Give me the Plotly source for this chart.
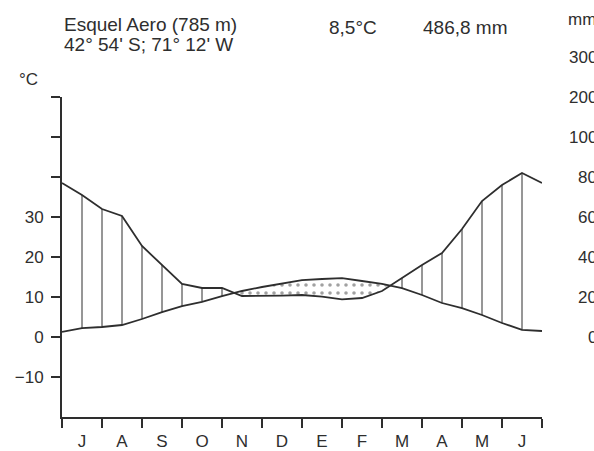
import numpy as np
import plotly.graph_objects as go

# ---------------- data ----------------
months = ["J", "A", "S", "O", "N", "D", "E", "F", "M", "A", "M", "J"]
# positions in months (0 = start of July), read every half month
pos = [i * 0.5 for i in range(25)]
temp_c = [1.3, 2.2, 2.5, 3.0, 4.5, 6.2, 7.7, 8.8, 10.2, 11.5, 12.5, 13.3, 14.2,
          14.5, 14.7, 14.0, 13.3, 12.2, 10.5, 8.5, 7.2, 5.5, 3.5, 1.8, 1.5]
precip_mm = [77, 71, 64, 60.5, 45.5, 36, 26.5, 24.5, 24.5, 20.5, 20.5, 20.7, 21,
             20.2, 18.8, 19.5, 23, 29.5, 36, 42, 54, 68, 76, 82, 77]

temp_ticks = [-10, 0, 10, 20, 30, 40, 50, 60]
temp_labels = ["\u221210", "0", "10", "20", "30", "", "", ""]
precip_ticks_mm = [0, 20, 40, 60, 80, 100, 200, 300]

title_line1 = "Esquel Aero (785 m)"
title_line2 = "42\u00b0 54' S; 71\u00b0 12' W"
mean_temp_txt = "8,5\u00b0C"
total_precip_txt = "486,8 mm"


def mm_to_y(mm):
    mm = np.asarray(mm, dtype=float)
    return np.where(mm <= 100, mm / 2.0, 50 + (mm - 100) / 10.0)


x = np.array(pos)
t = np.array(temp_c)
p = mm_to_y(precip_mm)

FONT = "Liberation Sans, Arial, sans-serif"
INK = "#2e2e2e"

Y0, Y1 = -20, 60

fig = go.Figure()

# ---- arid (dotted) regions: temperature above precipitation ----
d = t - p
i = 0
n = len(x)
while i < n:
    if d[i] > 0:
        j = i
        while j + 1 < n and d[j + 1] > 0:
            j += 1
        px_, py_ = [], []
        if i > 0:
            f = d[i - 1] / (d[i - 1] - d[i])
            px_.append(x[i - 1] + f * (x[i] - x[i - 1]))
            py_.append(t[i - 1] + f * (t[i] - t[i - 1]))
        px_ += list(x[i:j + 1]); py_ += list(t[i:j + 1])
        if j < n - 1:
            f = d[j] / (d[j] - d[j + 1])
            px_.append(x[j] + f * (x[j + 1] - x[j]))
            py_.append(t[j] + f * (t[j + 1] - t[j]))
        px_ += list(x[i:j + 1][::-1]); py_ += list(p[i:j + 1][::-1])
        fig.add_trace(go.Scatter(
            x=px_, y=py_, mode="lines", fill="toself",
            line=dict(width=0, color="rgba(0,0,0,0)"),
            fillcolor="white",
            fillpattern=dict(shape=".", fgcolor="#444444", bgcolor="white",
                             size=8, solidity=0.16),
            hoverinfo="skip", showlegend=False))
        i = j + 1
    else:
        i += 1

# ---- humid hatching: vertical lines where precipitation above temperature ----
hx, hy = [], []
for k in range(1, n - 1):
    if p[k] > t[k]:
        hx += [x[k], x[k], None]
        hy += [t[k], p[k], None]
fig.add_trace(go.Scatter(x=hx, y=hy, mode="lines",
                         line=dict(color=INK, width=1),
                         hoverinfo="skip", showlegend=False))

# ---- curves ----
fig.add_trace(go.Scatter(x=x, y=t, mode="lines", line=dict(color=INK, width=1.8),
                         showlegend=False, name="Temperatura"))
fig.add_trace(go.Scatter(x=x, y=p, mode="lines", line=dict(color=INK, width=1.8),
                         showlegend=False, name="Precipitaci\u00f3n"))

# ---------------- layout ----------------
L, R, T, B = 62, 542, 97, 417
W, H = 594, 451


def pxx(v):
    return (v - L) / (R - L)


def pxy(v):
    return (B - v) / (B - T)


def y_to_paper(v):
    return (v - Y0) / (Y1 - Y0)


ann = []
ann.append(dict(text=title_line1, x=pxx(62), y=pxy(24)))
ann.append(dict(text=title_line2, x=pxx(62), y=pxy(44)))
ann.append(dict(text=mean_temp_txt, x=pxx(327), y=pxy(27)))
ann.append(dict(text=total_precip_txt, x=pxx(421), y=pxy(27)))
for a in ann:
    a.update(xref="paper", yref="paper", xanchor="left", yanchor="middle",
             showarrow=False, font=dict(size=19, family=FONT, color=INK))

ann.append(dict(text="mm", x=pxx(566), y=pxy(20), xref="paper", yref="paper",
                xanchor="left", yanchor="middle", showarrow=False,
                font=dict(size=17, family=FONT, color=INK)))
ann.append(dict(text="\u00b0C", x=pxx(17), y=pxy(79), xref="paper", yref="paper",
                xanchor="left", yanchor="middle", showarrow=False,
                font=dict(size=17, family=FONT, color=INK)))
for v, yy in zip(precip_ticks_mm, mm_to_y(precip_ticks_mm)):
    ann.append(dict(text=str(v), x=pxx(599), y=y_to_paper(float(yy)),
                    xref="paper", yref="paper",
                    xanchor="right", yanchor="middle", showarrow=False,
                    font=dict(size=17, family=FONT, color=INK)))

fig.update_layout(
    width=W, height=H,
    margin=dict(l=L, r=W - R, t=T, b=H - B, pad=0, autoexpand=False),
    paper_bgcolor="white", plot_bgcolor="white",
    font=dict(family=FONT, size=17, color=INK),
    showlegend=False,
    annotations=ann,
    xaxis=dict(range=[0, 12], showgrid=False, zeroline=False, automargin=False,
               showline=True, linecolor=INK, linewidth=2,
               tickmode="array", tickvals=[m + 0.5 for m in range(12)],
               ticktext=months, ticks="", ticklabelstandoff=8,
               tickfont=dict(size=17),
               minor=dict(tickmode="array", tickvals=list(range(13)),
                          ticks="outside", ticklen=9, tickwidth=2,
                          tickcolor=INK, showgrid=False),
               fixedrange=True),
    yaxis=dict(range=[Y0, Y1], showgrid=False, zeroline=False, automargin=False,
               showline=True, linecolor=INK, linewidth=2,
               tickmode="array", tickvals=temp_ticks, ticktext=temp_labels,
               ticks="outside", ticklen=9, tickwidth=2, tickcolor=INK,
               ticklabelstandoff=4, tickfont=dict(size=17), fixedrange=True),
    yaxis2=dict(range=[Y0, Y1], overlaying="y", side="right", anchor="x",
                showgrid=False, zeroline=False, automargin=False,
                showline=True, linecolor=INK, linewidth=2,
                tickmode="array", tickvals=temp_ticks, showticklabels=False,
                ticks="outside", ticklen=11, tickwidth=2, tickcolor=INK,
                fixedrange=True),
)

fig.write_html("out.html")
